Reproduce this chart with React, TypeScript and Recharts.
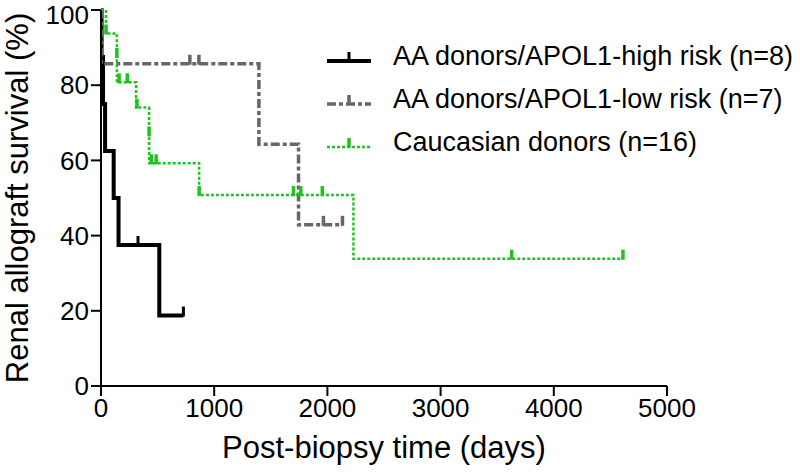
import { ComposedChart, Line, Scatter, XAxis, YAxis, Legend, Label } from 'recharts';

const FONT = '"Liberation Sans", Arial, Helvetica, sans-serif';

// axis ticks
const xTicks = [0, 1000, 2000, 3000, 4000, 5000];
const yTicks = [0, 20, 40, 60, 80, 100];

// AA donors / APOL1-high risk (n=8)
const highRiskDays = [0, 5, 18, 36, 112, 155, 515, 728];
const highRiskSurvival = [100, 87.5, 75, 62.5, 50, 37.5, 18.75, 18.75];
const highRiskCensorDays = [327, 728];
const highRiskCensorSurvival = [37.5, 18.75];

// AA donors / APOL1-low risk (n=7)
const lowRiskDays = [0, 3, 1395, 1745, 2133];
const lowRiskSurvival = [100, 85.71, 64.29, 42.86, 42.86];
const lowRiskCensorDays = [785, 865, 1965, 2133];
const lowRiskCensorSurvival = [85.71, 85.71, 42.86, 42.86];

// Caucasian donors (n=16)
const caucDays = [0, 44, 140, 310, 425, 867, 2230, 4611];
const caucSurvival = [100, 93.75, 80.77, 74.04, 59.23, 50.77, 33.85, 33.85];
const caucCensorDays = [44, 140, 160, 232, 318, 425, 444, 487, 867, 1700, 1765, 1955, 3628, 4611];
const caucCensorSurvival = [93.75, 87.5, 80.77, 80.77, 74.04, 66.64, 59.23, 59.23, 50.77, 50.77, 50.77, 50.77, 33.85, 33.85];

const toPoints = (days: number[], surv: number[]) => days.map((t, i) => ({ t, s: surv[i] }));

const series = [
  {
    key: 'high',
    name: 'AA donors/APOL1-high risk (n=8)',
    color: '#000000',
    width: 4,
    dash: undefined as string | undefined,
    tickWidth: 3,
    steps: toPoints(highRiskDays, highRiskSurvival),
    censors: toPoints(highRiskCensorDays, highRiskCensorSurvival),
  },
  {
    key: 'low',
    name: 'AA donors/APOL1-low risk (n=7)',
    color: '#666666',
    width: 3.5,
    dash: '9 3 4 3',
    tickWidth: 3.5,
    steps: toPoints(lowRiskDays, lowRiskSurvival),
    censors: toPoints(lowRiskCensorDays, lowRiskCensorSurvival),
  },
  {
    key: 'cauc',
    name: 'Caucasian donors (n=16)',
    color: '#1ec41e',
    width: 2.5,
    dash: '3 2',
    tickWidth: 3.5,
    steps: toPoints(caucDays, caucSurvival),
    censors: toPoints(caucCensorDays, caucCensorSurvival),
  },
];

const censorShape = (color: string, width: number) => (props: any) => {
  const { cx, cy } = props;
  if (cx == null || cy == null) return <g />;
  return <line x1={cx} x2={cx} y1={cy - 9} y2={cy + 1} stroke={color} strokeWidth={width} />;
};

function renderLegend() {
  return (
    <div style={{ fontFamily: FONT, fontSize: 27, color: '#000' }}>
      {series.map(s => (
        <div key={s.key} style={{ display: 'flex', alignItems: 'center', height: 43 }}>
          <svg width={48} height={20} style={{ marginRight: 20 }}>
            <line x1={2} x2={46} y1={14} y2={14} stroke={s.color} strokeWidth={s.width} strokeDasharray={s.dash} />
            <line x1={24} x2={24} y1={5} y2={15} stroke={s.color} strokeWidth={s.tickWidth} />
          </svg>
          <span style={{ whiteSpace: 'nowrap' }}>{s.name}</span>
        </div>
      ))}
    </div>
  );
}

export default function App() {
  return (
    <div style={{ position: 'fixed', left: 0, top: 0, background: '#fff' }}>
      <ComposedChart width={800} height={473} margin={{ top: 10, right: 133, bottom: 0, left: 0 }}>
        <XAxis
          dataKey="t"
          type="number"
          domain={[0, 5000]}
          ticks={xTicks}
          allowDataOverflow
          height={87}
          stroke="#000"
          strokeWidth={2}
          tickSize={10}
          tickMargin={3}
          tick={{ fontSize: 26, fill: '#000', fontFamily: FONT }}
        >
          <Label
            content={(props: any) => {
              const vb = props.viewBox;
              return (
                <text x={vb.x + vb.width / 2} y={vb.y + 61} textAnchor="middle" dominantBaseline="central"
                  fontSize={31} fontFamily={FONT} fill="#000">
                  Post-biopsy time (days)
                </text>
              );
            }}
          />
        </XAxis>
        <YAxis
          type="number"
          domain={[0, 100]}
          ticks={yTicks}
          width={101}
          stroke="#000"
          strokeWidth={2}
          tickSize={10}
          tickMargin={2}
          tick={{ fontSize: 26, fill: '#000', fontFamily: FONT }}
        >
          <Label
            content={(props: any) => {
              const vb = props.viewBox;
              const x = vb.x + 17;
              const y = vb.y + vb.height / 2;
              return (
                <text x={x} y={y} transform={`rotate(-90 ${x} ${y})`} textAnchor="middle" dominantBaseline="central"
                  fontSize={31} fontFamily={FONT} fill="#000">
                  Renal allograft survival (%)
                </text>
              );
            }}
          />
        </YAxis>
        <Legend
          layout="horizontal"
          verticalAlign="middle"
          align="center"
          content={renderLegend}
          wrapperStyle={{ position: 'absolute', left: 325, top: 35, width: 475 }}
        />
        {series.map(s => (
          <Line
            key={s.key + '-line'}
            data={s.steps}
            dataKey="s"
            type="stepAfter"
            stroke={s.color}
            strokeWidth={s.width}
            strokeDasharray={s.dash}
            dot={false}
            activeDot={false}
            legendType="none"
            isAnimationActive={false}
          />
        ))}
        {series.map(s => (
          <Scatter
            key={s.key + '-cens'}
            data={s.censors}
            dataKey="s"
            shape={censorShape(s.color, s.tickWidth)}
            legendType="none"
            isAnimationActive={false}
          />
        ))}
      </ComposedChart>
    </div>
  );
}
